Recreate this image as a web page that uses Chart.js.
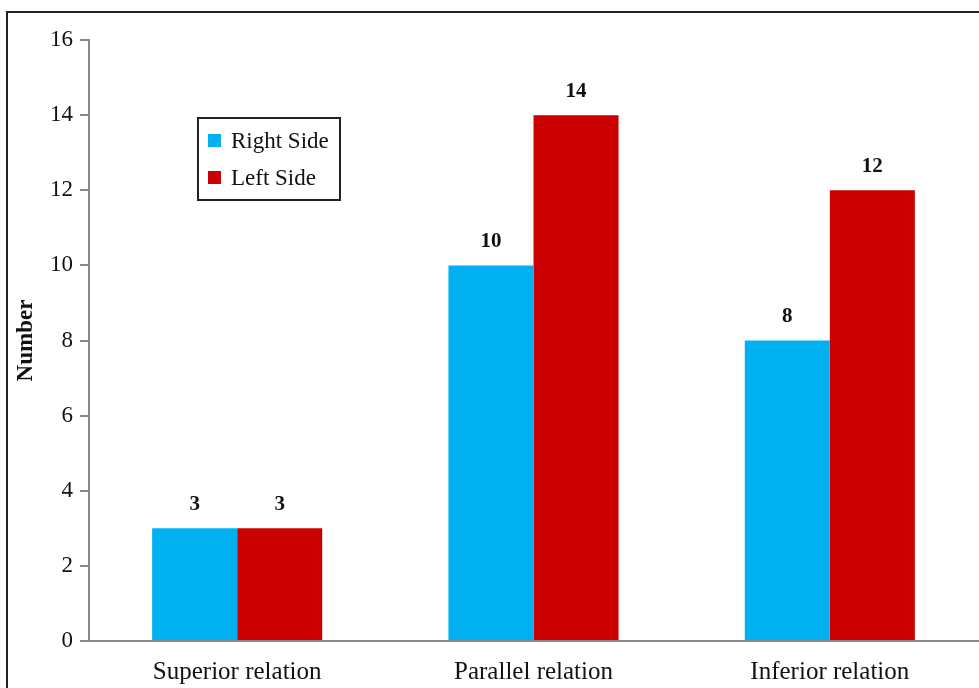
<!DOCTYPE html>
<html>
<head>
<meta charset="utf-8">
<script src="https://cdn.jsdelivr.net/npm/chart.js@4"></script>
<style>
  html, body { margin: 0; padding: 0; background: #fff; }
  #wrap { width: 979px; height: 688px; }
</style>
</head>
<body>
<div id="wrap"><canvas id="chart" width="979" height="688"></canvas></div>
<script>
// data
var categories = ["Superior relation", "Parallel relation", "Inferior relation"];
var rightSide = [3, 10, 8];
var leftSide = [3, 14, 12];
var seriesNames = ["Right Side", "Left Side"];
var yTicks = [0, 2, 4, 6, 8, 10, 12, 14, 16];

var FONT = "'Liberation Serif', 'Times New Roman', serif";

// frame + value labels + legend box
var extras = {
  id: "extras",
  afterDraw: function (chart) {
    var ctx = chart.ctx;
    ctx.save();
    // outer frame
    ctx.strokeStyle = "#222";
    ctx.lineWidth = 2;
    ctx.beginPath();
    ctx.moveTo(7, 688);
    ctx.lineTo(7, 12);
    ctx.lineTo(979, 12);
    ctx.stroke();

    // value labels
    ctx.fillStyle = "#111";
    ctx.font = "bold 21px " + FONT;
    ctx.textAlign = "center";
    ctx.textBaseline = "middle";
    chart.data.datasets.forEach(function (ds, i) {
      chart.getDatasetMeta(i).data.forEach(function (bar, j) {
        ctx.fillText(ds.data[j], bar.x, bar.y - 24);
      });
    });

    // legend box
    ctx.lineWidth = 2;
    ctx.strokeStyle = "#222";
    ctx.strokeRect(198, 118, 142, 82);
    ctx.font = "23px " + FONT;
    ctx.textAlign = "left";
    chart.data.datasets.forEach(function (ds, i) {
      var y = 141 + i * 37;
      ctx.fillStyle = ds.backgroundColor;
      ctx.fillRect(208, y - 7, 13, 13);
      ctx.fillStyle = "#111";
      ctx.fillText(ds.label, 231, y + 1);
    });
    ctx.restore();
  }
};

new Chart(document.getElementById("chart").getContext("2d"), {
  type: "bar",
  data: {
    labels: categories,
    datasets: [
      { label: seriesNames[0], data: rightSide, backgroundColor: "#00B0F0" },
      { label: seriesNames[1], data: leftSide, backgroundColor: "#CC0000" }
    ]
  },
  options: {
    responsive: false,
    animation: false,
    layout: { padding: { top: 40, right: 1, left: 0, bottom: 0 } },
    categoryPercentage: 0.574,
    barPercentage: 1,
    plugins: { legend: { display: false }, tooltip: { enabled: false } },
    scales: {
      x: {
        grid: { display: false, drawTicks: false },
        border: { display: true, color: "#888", width: 2 },
        ticks: { color: "#111", font: { family: FONT, size: 25 }, padding: 16, maxRotation: 0 },
        afterFit: function (s) { s.height = 47; }
      },
      y: {
        min: 0,
        max: 16,
        afterBuildTicks: function (s) { s.ticks = yTicks.map(function (v) { return { value: v }; }); },
        grid: { drawOnChartArea: false, drawTicks: true, tickLength: 9, color: "#888", lineWidth: 2 },
        border: { display: true, color: "#888", width: 2 },
        ticks: { color: "#111", font: { family: FONT, size: 23 }, padding: 7 },
        title: { display: true, text: "Number", color: "#111", font: { family: FONT, size: 23, weight: "bold" }, padding: { top: 12, bottom: 0 } },
        afterFit: function (s) { s.width = 89; }
      }
    }
  },
  plugins: [extras]
});
</script>
</body>
</html>
